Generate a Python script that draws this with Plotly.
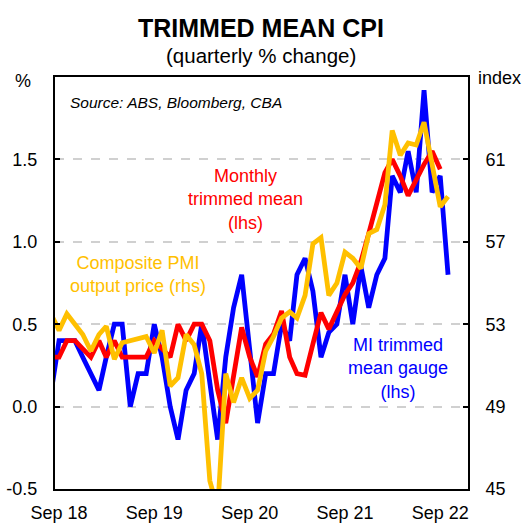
import pandas as pd
import plotly.graph_objects as go

# monthly observations, Aug 2018 .. Oct 2022 (Aug 2018 sits just outside the axis range)
months = pd.date_range("2018-08-01", "2022-10-01", freq="MS").strftime("%Y-%m-%d").tolist()

mi_gauge = [0.08, 0.4, 0.4, 0.4, 0.3, 0.2, 0.1, 0.3, 0.5, 0.5, 0.0, 0.2, 0.2, 0.5, 0.3, 0.0,
            -0.2, 0.1, 0.2, 0.5, 0.15, -0.2, 0.3, 0.6, 0.8, 0.35, -0.1, 0.2, 0.2, 0.5, 0.4,
            0.8, 0.9, 0.7, 0.3, 0.45, 0.5, 0.8, 0.5, 0.85, 0.6, 0.8, 0.9, 1.4, 1.3, 1.55,
            1.3, 1.92, 1.3, 1.4, 0.8]

monthly_tm = [0.3, 0.3, 0.4, 0.4, 0.35, 0.3, 0.4, 0.3, 0.4, 0.3, 0.3, 0.3, 0.3, 0.4, 0.35,
              0.3, 0.5, 0.4, 0.5, 0.5, 0.4, 0.1, -0.1, 0.2, 0.48, 0.3, 0.18, 0.38, 0.44, 0.58,
              0.3, 0.2, 0.19, 0.38, 0.57, 0.47, 0.58, 0.68, 0.75, 0.88, 1.05, 1.25, 1.42, 1.5,
              1.4, 1.28, 1.38, 1.47, 1.55, 1.44, None]

pmi_price = [53.5, 52.7, 53.5, 53.0, 52.5, 51.7, 52.5, 52.9, 51.3, 52.1, 52.2, 52.3, 52.4,
             51.6, 52.7, 50.0, 50.4, 52.5, 52.0, 50.6, 45.4, 44.0, 50.6, 49.2, 50.4, 49.4,
             49.8, 51.7, 52.4, 53.3, 53.6, 53.3, 54.4, 56.9, 57.2, 54.4, 55.0, 56.5, 56.2,
             55.7, 57.4, 57.6, 58.8, 62.4, 61.2, 61.8, 61.7, 62.8, 60.8, 58.7, 59.2]

x_label_dates = ["2018-09-01", "2019-09-01", "2020-09-01", "2021-09-01", "2022-09-01"]
x_label_text = ["Sep 18", "Sep 19", "Sep 20", "Sep 21", "Sep 22"]
x_tick_dates = ["2019-08-16 12:00", "2020-08-16 12:00", "2021-08-16 12:00", "2022-08-16 12:00"]
x_range = ["2018-08-16 12:00", "2022-12-16 12:00"]

lhs_ticks = [-0.5, 0.0, 0.5, 1.0, 1.5]
lhs_text = ["-0.5", "0.0", "0.5", "1.0", "1.5"]
rhs_ticks = [45, 49, 53, 57, 61]

BLUE = "#0000FF"
RED = "#FF0000"
GOLD = "#FFC000"
FONT = "Liberation Sans, Arial, sans-serif"

W, H = 531, 526
L, R, T, B = 55, 63, 77, 37
pw, ph = W - L - R, H - T - B


def px(x):
    return (x - L) / pw


def py(y):
    return (H - B - y) / ph


fig = go.Figure()
fig.add_trace(go.Scatter(x=months, y=mi_gauge, mode="lines", line=dict(color=BLUE, width=4.8),
                         yaxis="y", xaxis="x", showlegend=False))
fig.add_trace(go.Scatter(x=months, y=monthly_tm, mode="lines", line=dict(color=RED, width=4.8),
                         yaxis="y", xaxis="x", showlegend=False))
fig.add_trace(go.Scatter(x=months, y=pmi_price, mode="lines", line=dict(color=GOLD, width=4.8),
                         yaxis="y2", xaxis="x", showlegend=False))

fig.update_layout(
    template="none",
    width=W, height=H,
    margin=dict(l=L, r=R, t=T, b=B, pad=0),
    paper_bgcolor="white", plot_bgcolor="white",
    font=dict(family=FONT, size=18, color="black"),
    xaxis=dict(
        type="date", range=x_range, tickvals=x_label_dates, ticktext=x_label_text,
        ticks="", showgrid=False, zeroline=False, showline=True, mirror=True, automargin=False,
        linecolor="black", linewidth=2, tickfont=dict(size=18), ticklabelstandoff=6,
    ),
    xaxis2=dict(
        type="date", range=x_range, overlaying="x", anchor="free", position=0.2,
        tickvals=x_tick_dates, ticks="inside", ticklen=6, tickwidth=2, tickcolor="black",
        showticklabels=False, showgrid=False, zeroline=False, showline=True, automargin=False,
        linecolor="black", linewidth=2,
    ),
    yaxis=dict(
        range=[-0.5, 2.0], tickvals=lhs_ticks, ticktext=lhs_text, ticks="inside", ticklen=5,
        tickwidth=1.5, tickcolor="black", showgrid=True, gridcolor="#D0D0D0", griddash="dash",
        gridwidth=1.5, zeroline=False, showline=True, linecolor="black", linewidth=2,
        tickfont=dict(size=18), ticklabelstandoff=12, automargin=False,
    ),
    yaxis2=dict(
        range=[45, 65], tickvals=rhs_ticks, overlaying="y", side="right", ticks="inside",
        ticklen=5, tickwidth=1.5, tickcolor="black", showgrid=False, zeroline=False,
        showline=True, linecolor="black", linewidth=2, tickfont=dict(size=18),
        ticklabelstandoff=12, automargin=False,
    ),
)

ann = [
    dict(text="<b>TRIMMED MEAN CPI</b>", x=px(261), y=py(28), size=25, color="black"),
    dict(text="(quarterly % change)", x=px(261), y=py(56), size=20.5, color="black"),
    dict(text="%", x=px(22.5), y=py(81), size=18, color="black"),
    dict(text="index", x=px(499.5), y=py(78), size=18, color="black"),
    dict(text="Monthly<br>trimmed mean<br>(lhs)", x=px(245), y=py(199), size=18, color=RED),
    dict(text="Composite PMI<br>output price (rhs)", x=px(138), y=py(274), size=18, color=GOLD),
    dict(text="MI trimmed<br>mean gauge<br>(lhs)", x=px(398), y=py(368), size=18, color=BLUE),
]
for a in ann:
    fig.add_annotation(text=a["text"], x=a["x"], y=a["y"], xref="paper", yref="paper",
                       xanchor="center", yanchor="middle", showarrow=False,
                       font=dict(family=FONT, size=a["size"], color=a["color"]))

fig.add_annotation(text="<i>Source: ABS, Bloomberg, CBA</i>", x=px(68), y=py(103),
                   xref="paper", yref="paper", xanchor="left", yanchor="middle",
                   showarrow=False, font=dict(family=FONT, size=15.5, color="black"))

fig.write_html(
    "out.html",
    config={"displayModeBar": False},
    post_script="document.body.style.margin='0';document.body.style.overflow='hidden';",
)
